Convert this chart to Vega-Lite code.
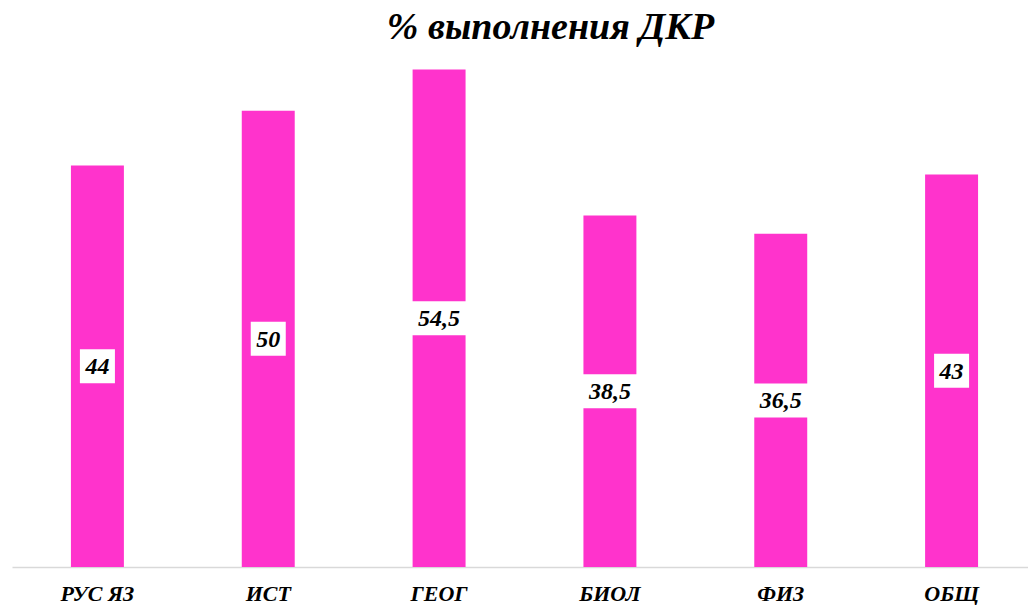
{
  "$schema": "https://vega.github.io/schema/vega-lite/v6.json",
  "autosize": "none",
  "width": 1025,
  "height": 502,
  "padding": {"left": 12, "top": 65, "right": 0, "bottom": 38},
  "background": "white",
  "title": {
    "text": "% выполнения ДКР",
    "font": "Liberation Serif",
    "fontSize": 38,
    "fontWeight": "bold",
    "fontStyle": "italic",
    "color": "black",
    "anchor": "middle",
    "dx": 26,
    "offset": 18
  },
  "config": {
    "view": {"stroke": null},
    "locale": {"number": {"decimal": ",", "thousands": " ", "grouping": [3], "currency": ["", " ₽"]}}
  },
  "data": {
    "values": [
      {"subject": "РУС ЯЗ", "value": 44},
      {"subject": "ИСТ", "value": 50},
      {"subject": "ГЕОГ", "value": 54.5},
      {"subject": "БИОЛ", "value": 38.5},
      {"subject": "ФИЗ", "value": 36.5},
      {"subject": "ОБЩ", "value": 43}
    ]
  },
  "transform": [{"calculate": "datum.value / 2", "as": "mid"}],
  "encoding": {
    "x": {
      "field": "subject",
      "type": "nominal",
      "sort": null,
      "scale": {"paddingInner": 0.69, "paddingOuter": 0.345},
      "axis": {
        "title": null,
        "labelAngle": 0,
        "ticks": false,
        "domainColor": "#d9d9d9",
        "domainWidth": 1.3,
        "labelFont": "Liberation Serif",
        "labelFontSize": 22,
        "labelFontWeight": "bold",
        "labelFontStyle": "italic",
        "labelColor": "black",
        "labelPadding": 16
      }
    }
  },
  "layer": [
    {
      "mark": {"type": "bar", "color": "#FF33CC"},
      "encoding": {
        "y": {"field": "value", "type": "quantitative", "scale": {"domain": [0, 55], "nice": false}, "axis": null}
      }
    },
    {
      "mark": {"type": "point", "filled": true, "color": "white", "opacity": 1, "strokeWidth": 0},
      "encoding": {
        "y": {"field": "mid", "type": "quantitative", "scale": {"domain": [0, 55], "nice": false}, "axis": null},
        "size": {"value": 1156},
        "shape": {
          "condition": {"test": "datum.value % 1 != 0", "value": "M-1.76,-1H1.76V1H-1.76Z"},
          "value": "M-1.03,-1H1.03V1H-1.03Z"
        }
      }
    },
    {
      "mark": {"type": "text", "font": "Liberation Serif", "fontSize": 24, "fontWeight": "bold", "fontStyle": "italic", "color": "black", "baseline": "middle", "dy": 1},
      "encoding": {
        "y": {"field": "mid", "type": "quantitative", "scale": {"domain": [0, 55], "nice": false}, "axis": null},
        "text": {"field": "value", "type": "quantitative", "format": ".3~g"}
      }
    }
  ]
}
